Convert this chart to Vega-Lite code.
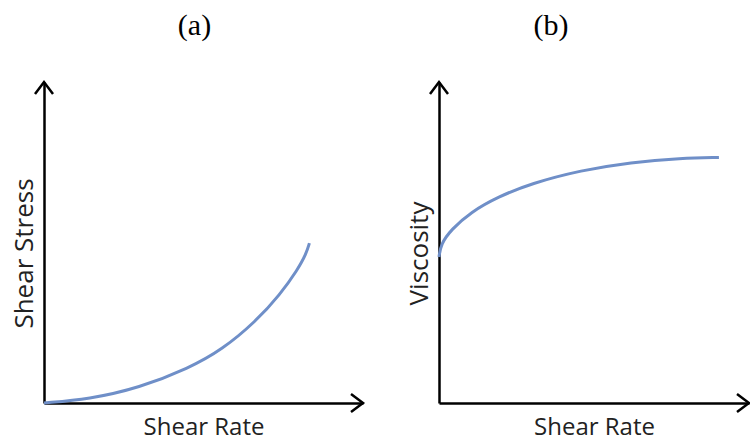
{
  "$schema": "https://vega.github.io/schema/vega-lite/v6.json",
  "background": "white",
  "padding": {"left": 11, "top": 11, "right": 0, "bottom": 6},
  "spacing": 38,
  "config": {
    "view": {"stroke": null},
    "axis": {
      "domainColor": "black",
      "domainWidth": 2.5,
      "ticks": false,
      "labels": false,
      "grid": false,
      "titleFont": "Open Sans",
      "titleFontSize": 24,
      "titleFontWeight": "normal",
      "titleColor": "#222222"
    },
    "axisX": {"titlePadding": 12},
    "axisY": {"titlePadding": 7, "titleY": 171, "titleFontSize": 26}
  },
  "datasets": {
    "stress": [
      {"rate": 0, "stress": 0},
      {"rate": 1.41, "stress": 0.12},
      {"rate": 2.98, "stress": 0.47},
      {"rate": 4.55, "stress": 1.09},
      {"rate": 5.58, "stress": 1.66},
      {"rate": 6.65, "stress": 2.55},
      {"rate": 7.40, "stress": 3.38},
      {"rate": 7.95, "stress": 4.15},
      {"rate": 8.22, "stress": 4.65},
      {"rate": 8.32, "stress": 4.98}
    ],
    "viscosity": [
      {"rate": 0, "viscosity": 4.55},
      {"rate": 0.06, "viscosity": 4.95},
      {"rate": 0.39, "viscosity": 5.40},
      {"rate": 1.03, "viscosity": 5.95},
      {"rate": 1.90, "viscosity": 6.42},
      {"rate": 2.97, "viscosity": 6.84},
      {"rate": 4.58, "viscosity": 7.25},
      {"rate": 6.19, "viscosity": 7.50},
      {"rate": 7.81, "viscosity": 7.63},
      {"rate": 9.03, "viscosity": 7.65}
    ],
    "arrows": [
      {"dir": "up", "x": 0, "y": 10},
      {"dir": "right", "x": 10, "y": 0}
    ]
  },
  "hconcat": [
    {
      "title": {"text": "(a)", "font": "Liberation Serif", "fontSize": 30, "fontWeight": "normal", "color": "black", "dx": -9, "offset": 36},
      "width": 319,
      "height": 321,
      "layer": [
        {
          "data": {"name": "stress"},
          "mark": {"type": "line", "color": "#6f8fc8", "strokeWidth": 3, "interpolate": "basis"},
          "encoding": {
            "x": {"field": "rate", "type": "quantitative", "scale": {"domain": [0, 10]}, "axis": {"title": "Shear Rate"}},
            "y": {"field": "stress", "type": "quantitative", "scale": {"domain": [0, 10]}, "axis": {"title": "Shear Stress"}}
          }
        },
        {
          "data": {"name": "arrows"},
          "mark": {"type": "point", "filled": false, "stroke": "black", "strokeWidth": 2.5, "size": 576, "opacity": 1},
          "encoding": {
            "x": {"field": "x", "type": "quantitative"},
            "y": {"field": "y", "type": "quantitative"},
            "shape": {"field": "dir", "type": "nominal", "scale": {"domain": ["up", "right"], "range": ["M-0.75,1L0,0L0.75,1", "M-1,-0.75L0,0L-1,0.75"]}, "legend": null}
          }
        }
      ]
    },
    {
      "title": {"text": "(b)", "font": "Liberation Serif", "fontSize": 30, "fontWeight": "normal", "color": "black", "dx": -43, "offset": 36},
      "width": 310,
      "height": 321,
      "layer": [
        {
          "data": {"name": "viscosity"},
          "mark": {"type": "line", "color": "#6f8fc8", "strokeWidth": 3, "interpolate": "basis"},
          "encoding": {
            "x": {"field": "rate", "type": "quantitative", "scale": {"domain": [0, 10]}, "axis": {"title": "Shear Rate"}},
            "y": {"field": "viscosity", "type": "quantitative", "scale": {"domain": [0, 10]}, "axis": {"title": "Viscosity"}}
          }
        },
        {
          "data": {"name": "arrows"},
          "mark": {"type": "point", "filled": false, "stroke": "black", "strokeWidth": 2.5, "size": 576, "opacity": 1},
          "encoding": {
            "x": {"field": "x", "type": "quantitative"},
            "y": {"field": "y", "type": "quantitative"},
            "shape": {"field": "dir", "type": "nominal", "scale": {"domain": ["up", "right"], "range": ["M-0.75,1L0,0L0.75,1", "M-1,-0.75L0,0L-1,0.75"]}, "legend": null}
          }
        }
      ]
    }
  ]
}
